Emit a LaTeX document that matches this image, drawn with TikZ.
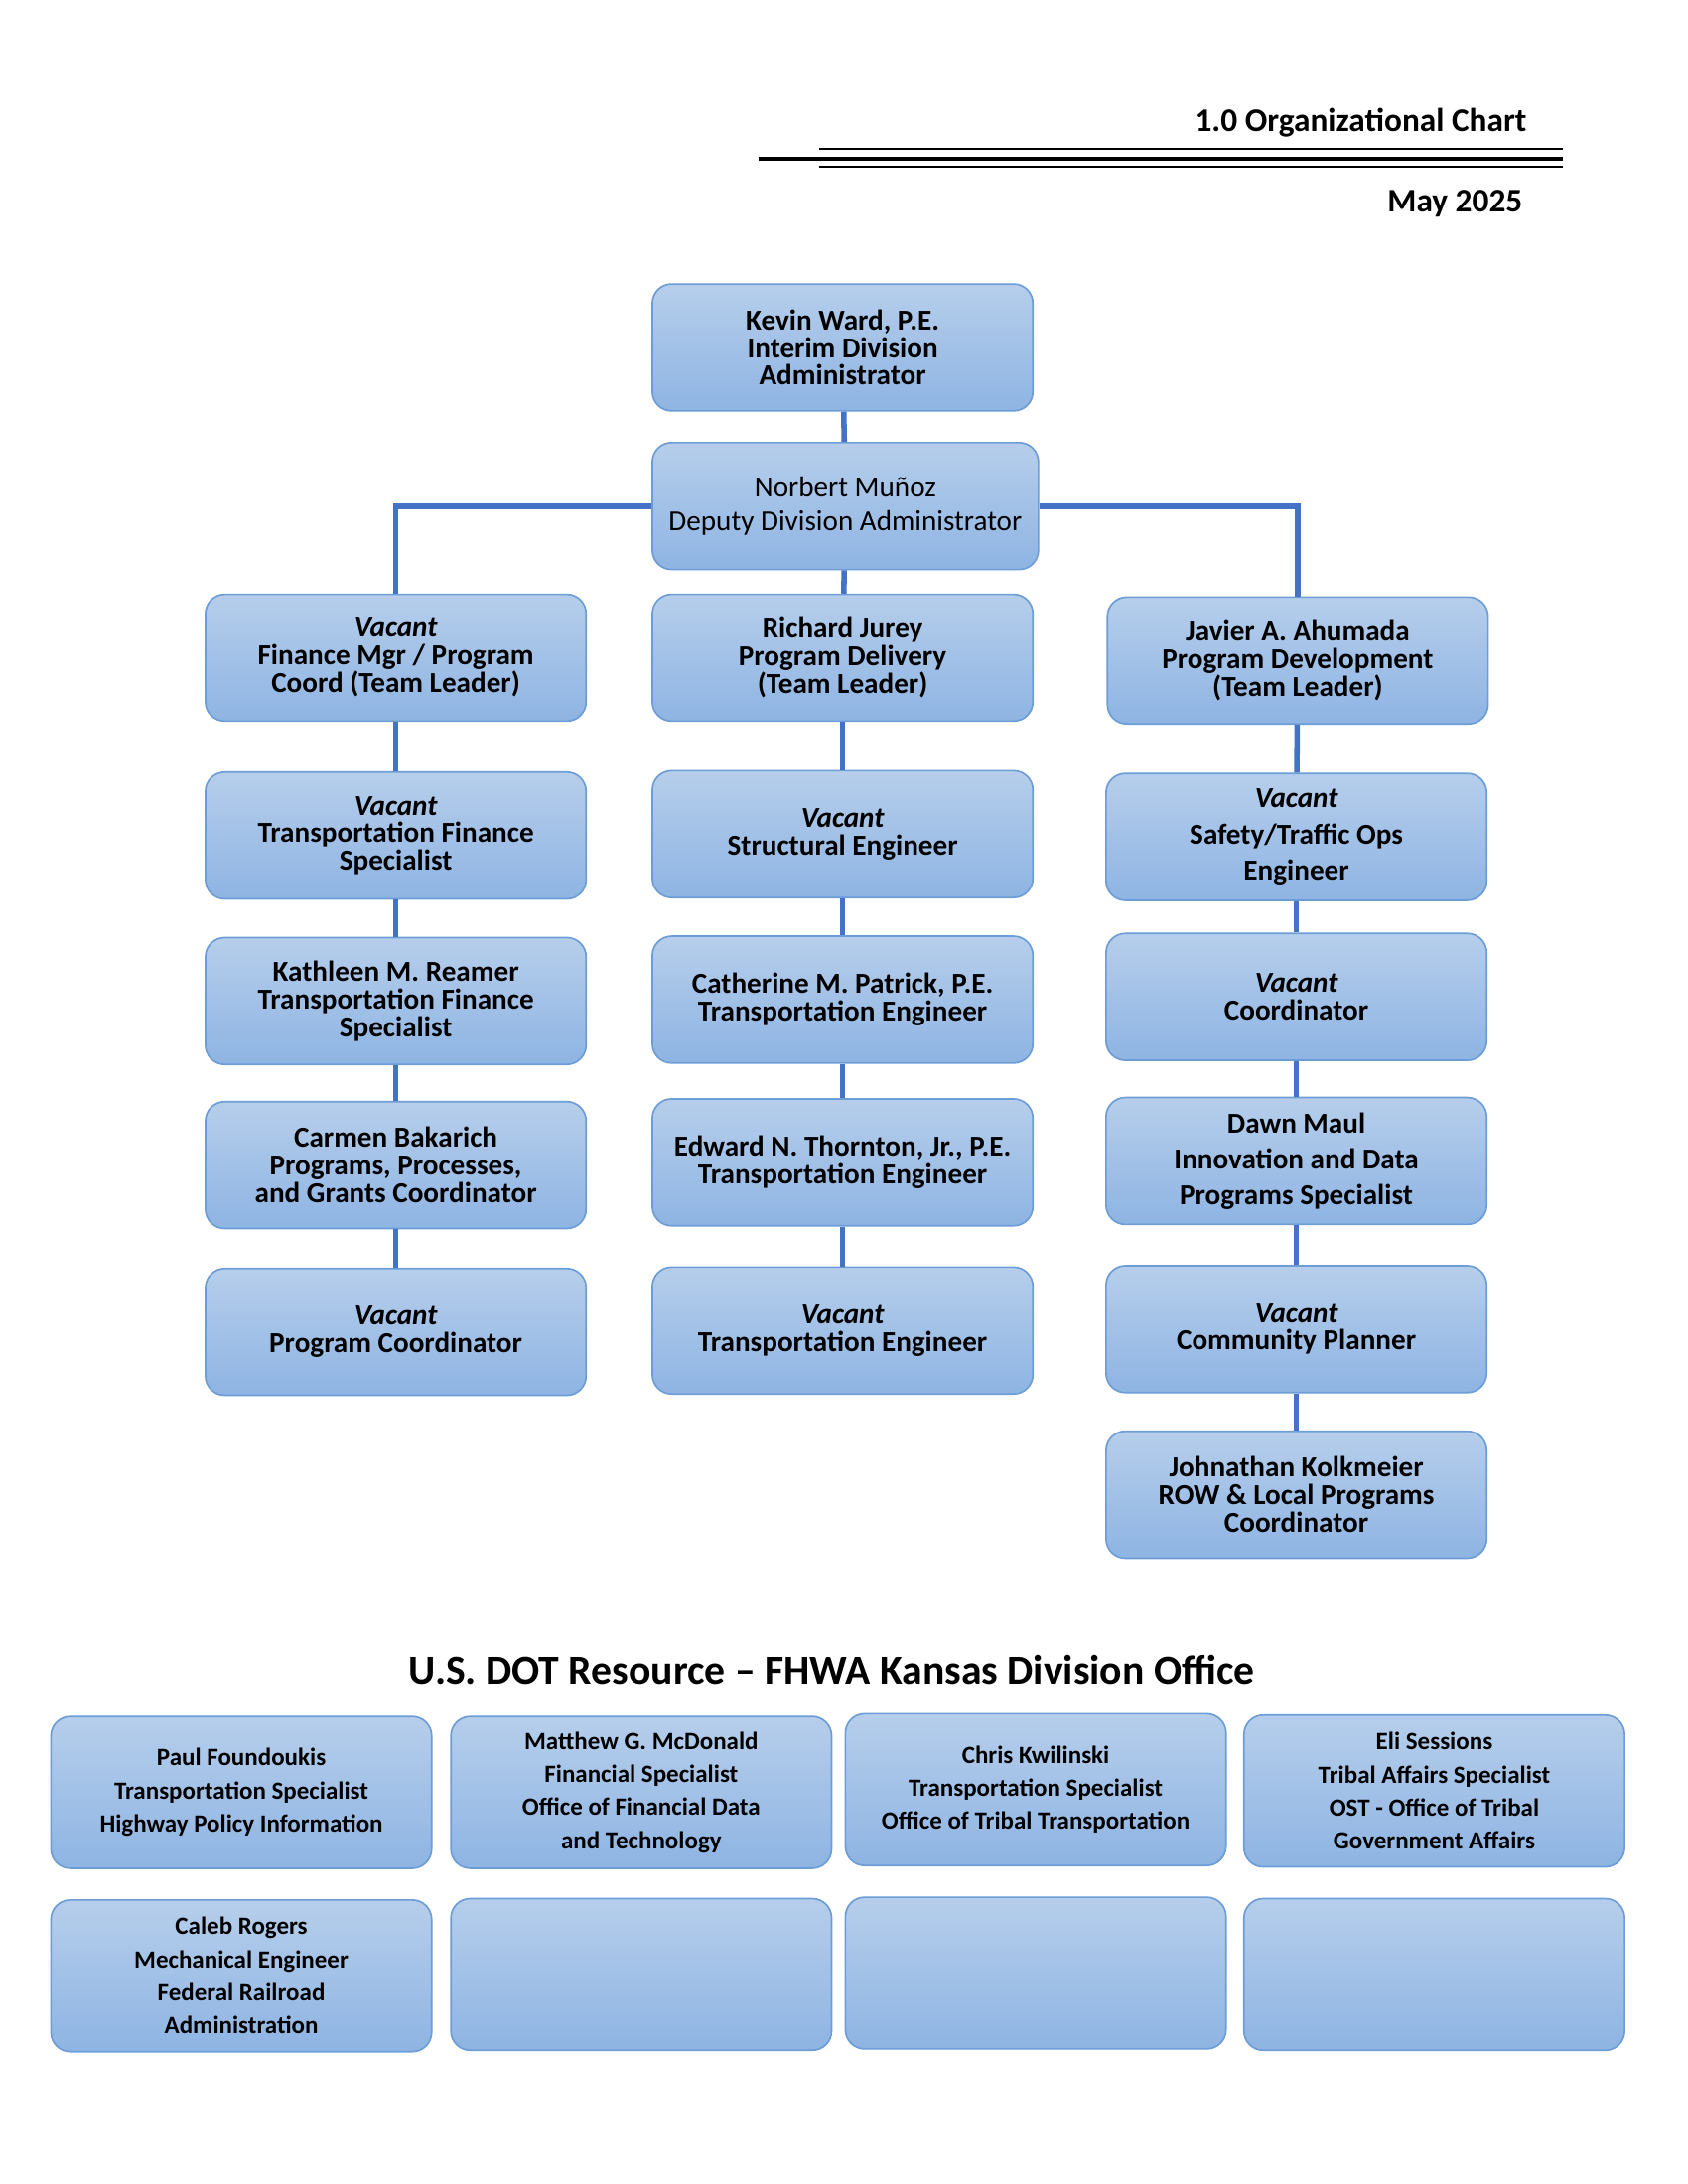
\documentclass[tikz,border=0pt]{standalone}
\usepackage{fontspec}
\setmainfont{Carlito}
\usetikzlibrary{positioning}
\definecolor{boxtop}{HTML}{B6CEEB}
\definecolor{boxbot}{HTML}{8EB4E3}
\definecolor{boxline}{HTML}{6C9DD6}
\definecolor{linkblue}{HTML}{4472C4}
\begin{document}
\begin{tikzpicture}[x=0.5pt,y=-0.5pt,
      mybox/.style={
         rectangle,
         rounded corners=7pt,
         draw=boxline,
         line width=0.6pt,
         top color=boxtop,
         bottom color=boxbot,
         minimum width=138pt,
         minimum height=46pt,
         align=center,
         inner sep=2pt,
         font=\bfseries\fontsize{10.5}{10}\selectfont},
      mysmall/.style={
         mybox,
         minimum height=55pt,
         font=\bfseries\fontsize{9}{12}\selectfont},
      mylink/.style={draw=linkblue,line width=2pt}
      ]
      \useasboundingbox (0,0) rectangle (1224,1584);
      % header
      \node[anchor=east,font=\bfseries\fontsize{12}{14}\selectfont] (title) at (1114,89) {1.0 Organizational Chart};
      \node[anchor=east,font=\bfseries\fontsize{12}{14}\selectfont] (date) at (1111,148) {May 2025};
      \draw[line width=1.5pt] (550,115) -- (1133,115);
      \draw[line width=0.5pt] (594,108) -- (1133,108);
      \draw[line width=0.5pt] (594,121) -- (1133,121);
      % management
      \node[mybox] (kw) at (611,252) {Kevin Ward, P.E.\\Interim Division\\Administrator};
      \node[mybox,minimum width=140pt,font=\bfseries\fontsize{10.5}{12}\selectfont] (nm) at (613,367) {\mdseries Norbert Muñoz\\\mdseries Deputy Division Administrator};
      % left column
      \node[mybox] (l1) at (287,477) {\itshape Vacant\\Finance Mgr / Program\\Coord (Team Leader)};
      \node[mybox] (l2) at (287,606) {\itshape Vacant\\Transportation Finance\\Specialist};
      \node[mybox] (l3) at (287,726) {Kathleen M. Reamer\\Transportation Finance\\Specialist};
      \node[mybox] (l4) at (287,845) {Carmen Bakarich\\Programs, Processes,\\and Grants Coordinator};
      \node[mybox] (l5) at (287,966) {\itshape Vacant\\Program Coordinator};
      % middle column
      \node[mybox] (m1) at (611,477) {Richard Jurey\\Program Delivery\\(Team Leader)};
      \node[mybox] (m2) at (611,605) {\itshape Vacant\\Structural Engineer};
      \node[mybox] (m3) at (611,725) {Catherine M. Patrick, P.E.\\Transportation Engineer};
      \node[mybox] (m4) at (611,843) {Edward N. Thornton, Jr., P.E.\\Transportation Engineer};
      \node[mybox] (m5) at (611,965) {\itshape Vacant\\Transportation Engineer};
      % right column
      \node[mybox] (r1) at (941,479) {Javier A. Ahumada\\Program Development\\(Team Leader)};
      \node[mybox,font=\bfseries\fontsize{10.5}{13}\selectfont] (r2) at (940,607) {\itshape Vacant\\Safety/Traffic Ops\\Engineer};
      \node[mybox] (r3) at (940,723) {\itshape Vacant\\Coordinator};
      \node[mybox,font=\bfseries\fontsize{10.5}{13}\selectfont] (r4) at (940,842) {Dawn Maul\\Innovation and Data\\Programs Specialist};
      \node[mybox] (r5) at (940,964) {\itshape Vacant\\Community Planner};
      \node[mybox] (r6) at (940,1084) {Johnathan Kolkmeier\\ROW \& Local Programs\\Coordinator};
      % connectors
      \draw[mylink] (kw) -- (nm);
      \draw[mylink] (nm.west) -| (l1.north);
      \draw[mylink] (nm.east) -| (r1.north);
      \draw[mylink] (nm) -- (m1);
      \foreach \a/\b in {l1/l2,l2/l3,l3/l4,l4/l5,m1/m2,m2/m3,m3/m4,m4/m5,r1/r2,r2/r3,r3/r4,r4/r5,r5/r6}
        \draw[mylink] (\a) -- (\b);
      % U.S. DOT resources
      \node[font=\bfseries\fontsize{15}{18}\selectfont] (dot) at (603,1211) {U.S. DOT Resource – FHWA Kansas Division Office};
      \node[mysmall] (d1) at (175,1300) {Paul Foundoukis\\Transportation Specialist\\Highway Policy Information};
      \node[mysmall] (d2) at (465,1300) {Matthew G. McDonald\\Financial Specialist\\Office of Financial Data\\and Technology};
      \node[mysmall] (d3) at (751,1298) {Chris Kwilinski\\Transportation Specialist\\Office of Tribal Transportation};
      \node[mysmall] (d4) at (1040,1299) {Eli Sessions\\Tribal Affairs Specialist\\OST - Office of Tribal\\Government Affairs};
      \node[mysmall] (d5) at (175,1433) {Caleb Rogers\\Mechanical Engineer\\Federal Railroad\\Administration};
      \node[mysmall] (d6) at (465,1432) {};
      \node[mysmall] (d7) at (751,1431) {};
      \node[mysmall] (d8) at (1040,1432) {};
\end{tikzpicture}
\end{document}
